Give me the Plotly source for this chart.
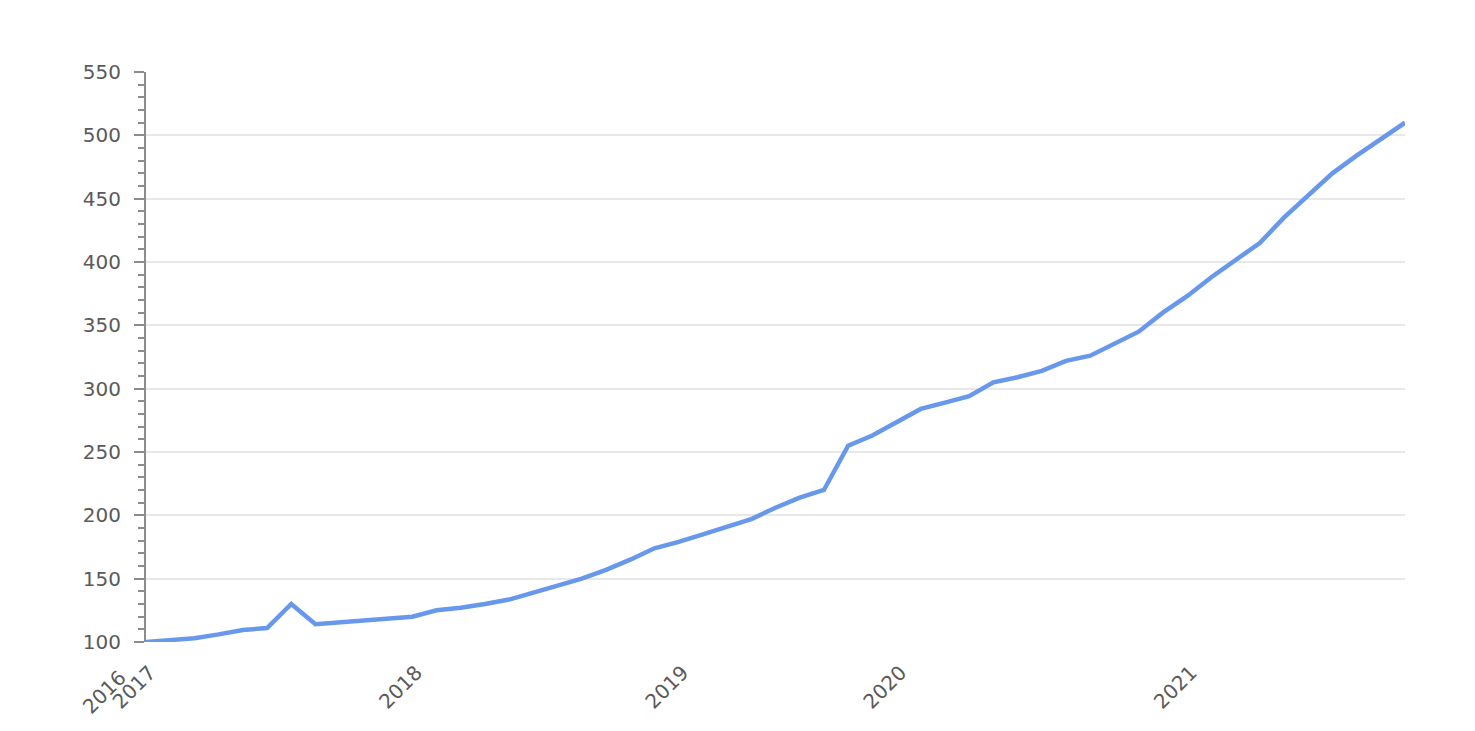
import plotly.graph_objects as go

# one value per period, evenly spaced along the category axis
values = [100, 101.5, 103, 106, 109.5, 111, 130, 114, 115.5, 117, 118.5, 120,
          125, 127, 130, 133.5, 139, 144.5, 150, 157, 165, 174, 179, 185, 191,
          197, 206, 214, 220, 255, 263, 274, 284, 289, 294, 305, 309, 314, 322,
          326, 336, 345, 360, 373, 388, 401, 415, 435, 453, 470, 484, 497, 510]
periods = list(range(len(values)))

# period index where each year label sits
year_labels = ["2017", "2018", "2019", "2020", "2021"]
year_index = [0, 11, 22, 31, 43]
# the chart also prints a stray "2016" one step before the first period
extra_label = "2016"
extra_index = -1

TXT = "#5a5a5a"
FONT = "DejaVu Sans"
FS = 20

fig = go.Figure(go.Scatter(
    x=periods, y=values, mode="lines",
    line=dict(color="rgb(104,152,236)", width=4.5),
    hoverinfo="y",
))

# annotation in paper units so it is not hidden for being off the x range
fig.add_annotation(
    x=(extra_index - periods[0]) / (periods[-1] - periods[0]), y=0,
    xref="paper", yref="paper",
    text=extra_label, showarrow=False, textangle=-45,
    xanchor="right", yanchor="top", xshift=12, yshift=-21,
    font=dict(family=FONT, size=FS, color=TXT),
)

fig.update_layout(
    width=1475, height=731,
    paper_bgcolor="white", plot_bgcolor="white",
    margin=dict(l=138, r=78, t=64, b=97),
    showlegend=False,
    font=dict(family=FONT, size=FS, color=TXT),
    xaxis=dict(
        range=[periods[0], periods[-1]],
        tickvals=year_index, ticktext=year_labels,
        tickangle=-45, showgrid=False, zeroline=False,
        showline=False, ticks="",
        ticklabelshift=4, ticklabelstandoff=14,
    ),
    yaxis=dict(
        range=[100, 550], dtick=50, tick0=100,
        showgrid=True, gridcolor="#e8e8e8", gridwidth=2,
        zeroline=False,
        showline=True, linecolor="#8c8c8c", linewidth=2,
        ticks="outside", ticklen=10, tickwidth=2, tickcolor="#8c8c8c",
        ticklabelstandoff=9,
        minor=dict(dtick=10, ticks="outside", ticklen=6, tickwidth=2,
                   tickcolor="#8c8c8c", showgrid=False),
    ),
)

fig.write_html("out.html")
